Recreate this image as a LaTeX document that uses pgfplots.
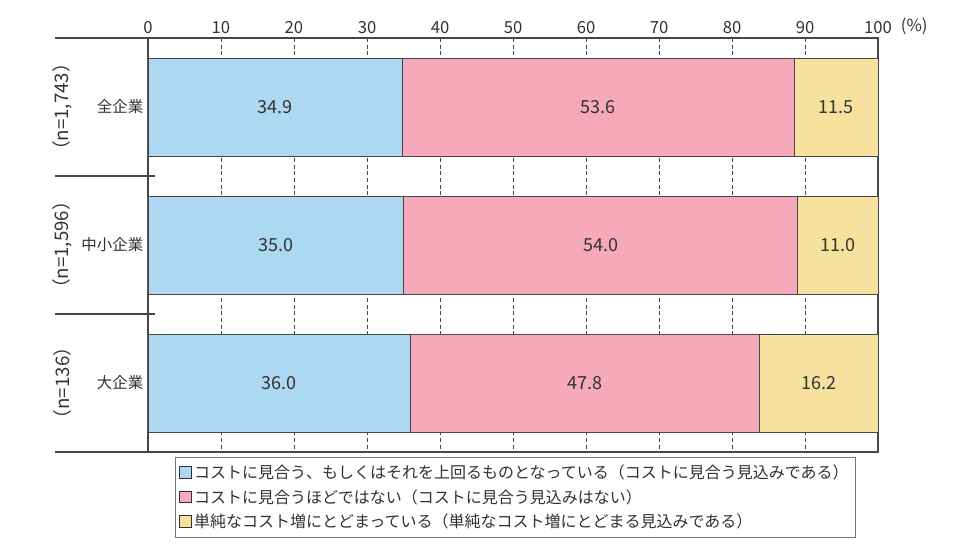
\documentclass[border=0pt]{standalone}
\usepackage{fontspec}
\setmainfont{Noto Sans CJK JP}
\usepackage{pgfplots}
\usepackage{pgfplotstable}
\pgfplotsset{compat=1.18}

\definecolor{cblue}{RGB}{172,216,241}
\definecolor{cpink}{RGB}{245,169,186}
\definecolor{cyel}{RGB}{247,225,158}
\definecolor{axc}{RGB}{70,70,70}
\definecolor{txt}{RGB}{50,50,50}

% shares in %, one row per group
\pgfplotstableread{
y a b c
0 34.9 53.6 11.5
1 35.0 54.0 11.0
2 36.0 47.8 16.2
}\shares

\newcommand{\jpfont}{\fontsize{11.6}{14}\selectfont}
\newcommand{\legfont}{\fontsize{12}{14}\selectfont}
\newcommand{\tickfont}{\fontsize{12.5}{14}\selectfont}
\newcommand{\valfont}{\fontsize{13.5}{15}\selectfont}

\begin{document}
\begin{tikzpicture}
\useasboundingbox (-111pt,-78pt) rectangle (606pt,339pt);
\begin{axis}[
    at={(0,0)}, anchor=south west,
    scale only axis, width=547.5pt, height=310.5pt,
    xbar stacked, bar width=0.71,
    xmin=0, xmax=100, ymin=-0.5, ymax=2.5,
    y dir=reverse,
    ytick={0,1,2}, yticklabels={全企業,中小企業,大企業},
    xtick={0,10,...,100},
    xticklabel pos=upper,
    major tick length=0pt,
    xmajorgrids,
    grid style={axc, line width=0.6pt, dash pattern=on 3pt off 2pt},
    axis line style={axc, line width=0.8pt},
    /pgf/number format/assume math mode=true,
    xticklabel style={font=\tickfont, text=txt},
    yticklabel style={font=\jpfont, text=txt},
    point meta=explicit,
    nodes near coords={\pgfmathprintnumber[fixed,fixed zerofill,precision=1]{\pgfplotspointmeta}},
    every node near coord/.append style={anchor=center, font=\valfont, text=txt},
    clip=false,
    legend style={at={(axis description cs:0.037,-0.012)}, anchor=north west,
        draw=black!55, line width=0.6pt, font=\legfont, text=txt,
        row sep=2.7pt, inner xsep=3pt, inner ysep=3.5pt},
    legend cell align=left,
    legend image code/.code={\draw[#1, draw=black!80, line width=0.5pt] (0pt,-4pt) rectangle (8.5pt,4.5pt);},
]
\addplot[fill=cblue, draw=axc, line width=0.6pt] table[x=a, y=y, meta=a] {\shares};
\addplot[fill=cpink, draw=axc, line width=0.6pt] table[x=b, y=y, meta=b] {\shares};
\addplot[fill=cyel, draw=axc, line width=0.6pt] table[x=c, y=y, meta=c] {\shares};
\legend{コストに見合う、もしくはそれを上回るものとなっている（コストに見合う見込みである）,
        コストに見合うほどではない（コストに見合う見込みはない）,
        単純なコスト増にとどまっている（単純なコスト増にとどまる見込みである）}

% group separators and sample sizes on the left
\draw[axc, line width=0.8pt] ([xshift=-69.75pt]axis cs:0,-0.5) -- (axis cs:0,-0.5);
\draw[axc, line width=0.8pt] ([xshift=-69.75pt]axis cs:0,2.5) -- (axis cs:0,2.5);
\draw[axc, line width=0.8pt] ([xshift=-69.75pt]axis cs:0,0.5) -- ([xshift=5.25pt]axis cs:0,0.5);
\draw[axc, line width=0.8pt] ([xshift=-69.75pt]axis cs:0,1.5) -- ([xshift=5.25pt]axis cs:0,1.5);
\node[rotate=90, font=\fontsize{14}{16}\selectfont, text=txt] at ([xshift=-64.5pt]axis cs:0,0) {（n=1,743）};
\node[rotate=90, font=\fontsize{14}{16}\selectfont, text=txt] at ([xshift=-64.5pt]axis cs:0,1) {（n=1,596）};
\node[rotate=90, font=\fontsize{14}{16}\selectfont, text=txt] at ([xshift=-64.5pt]axis cs:0,2) {（n=136）};
\node[anchor=west, inner sep=0pt, font=\tickfont, text=txt] at ([xshift=17pt,yshift=8.5pt]axis cs:100,-0.5) {(\%)};
\end{axis}
\end{tikzpicture}
\end{document}
